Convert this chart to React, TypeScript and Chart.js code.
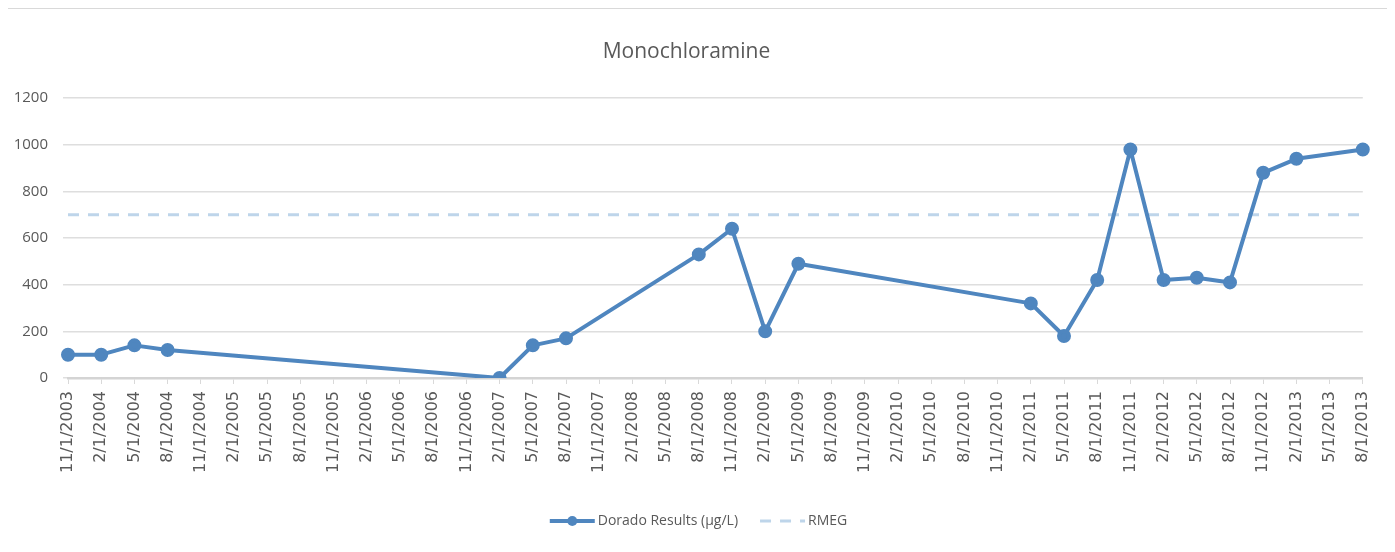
import React, { useEffect, useRef } from "react";
import { Chart, registerables } from "chart.js";

Chart.register(...registerables);

const TITLE = "Monochloramine";

const DATE_LABELS: string[] = [
  "11/1/2003", "2/1/2004", "5/1/2004", "8/1/2004", "11/1/2004",
  "2/1/2005", "5/1/2005", "8/1/2005", "11/1/2005",
  "2/1/2006", "5/1/2006", "8/1/2006", "11/1/2006",
  "2/1/2007", "5/1/2007", "8/1/2007", "11/1/2007",
  "2/1/2008", "5/1/2008", "8/1/2008", "11/1/2008",
  "2/1/2009", "5/1/2009", "8/1/2009", "11/1/2009",
  "2/1/2010", "5/1/2010", "8/1/2010", "11/1/2010",
  "2/1/2011", "5/1/2011", "8/1/2011", "11/1/2011",
  "2/1/2012", "5/1/2012", "8/1/2012", "11/1/2012",
  "2/1/2013", "5/1/2013", "8/1/2013",
];

const DORADO_RESULTS: (number | null)[] = [
  100, 100, 140, 120, null,
  null, null, null, null,
  null, null, null, null,
  0, 140, 170, null,
  null, null, 530, 640,
  200, 490, null, null,
  null, null, null, null,
  320, 180, 420, 980,
  420, 430, 410, 880,
  940, null, 980,
];

const RMEG_VALUES: number[] = [
  700, 700, 700, 700, 700,
  700, 700, 700, 700,
  700, 700, 700, 700,
  700, 700, 700, 700,
  700, 700, 700, 700,
  700, 700, 700, 700,
  700, 700, 700, 700,
  700, 700, 700, 700,
  700, 700, 700, 700,
  700, 700, 700,
];

const Y_TICKS = { min: 0, max: 1200, step: 200 };

const SANS = "'Open Sans', sans-serif";
const WIDE = "'DejaVu Sans', 'Open Sans', sans-serif";
const TEXT_COLOR = "#595959";

const legendPlugin = {
  id: "customLegend",
  afterDraw(chart: any) {
    const ctx = chart.ctx as CanvasRenderingContext2D;
    ctx.save();
    ctx.font = `14px ${SANS}`;
    const items = chart.data.datasets.map((ds: any) => ({
      ds,
      w: ctx.measureText(ds.label).width,
    }));
    const lineW = 45;
    const gapText = 3;
    const gapItems = 22;
    const total =
      items.reduce((s: number, it: any) => s + lineW + gapText + it.w, 0) +
      gapItems * (items.length - 1);
    let x = chart.width / 2 - total / 2;
    const y = 512;
    items.forEach(({ ds, w }: any) => {
      ctx.strokeStyle = ds.borderColor;
      ctx.lineWidth = ds.borderWidth;
      ctx.lineCap = "butt";
      ctx.setLineDash(ds.borderDash || []);
      ctx.beginPath();
      ctx.moveTo(x, y);
      ctx.lineTo(x + lineW, y);
      ctx.stroke();
      ctx.setLineDash([]);
      if (ds.pointRadius > 0) {
        ctx.fillStyle = ds.pointBackgroundColor;
        ctx.beginPath();
        ctx.arc(x + lineW / 2, y, ds.pointRadius, 0, Math.PI * 2);
        ctx.fill();
      }
      ctx.fillStyle = TEXT_COLOR;
      ctx.textBaseline = "middle";
      ctx.textAlign = "left";
      ctx.fillText(ds.label, x + lineW + gapText, y);
      x += lineW + gapText + w + gapItems;
    });
    ctx.restore();
  },
};

export default function App() {
  const canvasRef = useRef<HTMLCanvasElement | null>(null);

  useEffect(() => {
    if (!canvasRef.current) return;
    const chart = new Chart(canvasRef.current, {
      type: "line",
      data: {
        labels: DATE_LABELS,
        datasets: [
          {
            label: "Dorado Results (µg/L)",
            data: DORADO_RESULTS,
            borderColor: "#4f86bf",
            backgroundColor: "#4f86bf",
            pointBackgroundColor: "#4f86bf",
            pointBorderColor: "#4f86bf",
            borderWidth: 4,
            pointRadius: 5,
            pointHoverRadius: 5,
            spanGaps: true,
            tension: 0,
            borderJoinStyle: "round",
            borderCapStyle: "round",
          } as any,
          {
            label: "RMEG",
            data: RMEG_VALUES,
            borderColor: "#bed5ea",
            backgroundColor: "#bed5ea",
            borderWidth: 3,
            borderDash: [11, 9],
            pointRadius: 0,
            pointHoverRadius: 0,
            tension: 0,
          } as any,
        ],
      },
      options: {
        responsive: false,
        animation: false,
        devicePixelRatio: 1,
        layout: { padding: { left: 0, right: 24, top: 0, bottom: 0 } },
        plugins: {
          legend: { display: false },
          tooltip: { enabled: false },
          title: {
            display: true,
            text: TITLE,
            color: TEXT_COLOR,
            font: { family: SANS, size: 21, weight: "normal", lineHeight: 1.2 },
            padding: { top: 30, bottom: 34 },
          },
        },
        scales: {
          x: {
            type: "category",
            offset: false,
            grid: {
              display: true,
              drawOnChartArea: false,
              drawTicks: true,
              tickLength: 6,
              tickColor: "#d9d9d9",
              color: "#d9d9d9",
            },
            border: { display: true, color: "#d4d4d4", width: 2.5 },
            ticks: {
              autoSkip: false,
              maxRotation: 90,
              minRotation: 90,
              padding: 7,
              color: TEXT_COLOR,
              font: { family: WIDE, size: 16 },
            },
            afterFit(scale: any) {
              scale.height = 174;
            },
          },
          y: {
            min: Y_TICKS.min,
            max: Y_TICKS.max,
            grid: {
              color: "#dedede",
              lineWidth: 1.5,
              drawTicks: true,
              tickLength: 5,
              tickColor: "#dedede",
            },
            border: { display: false },
            ticks: {
              stepSize: Y_TICKS.step,
              padding: 15,
              color: TEXT_COLOR,
              font: { family: SANS, size: 15 },
              callback: (v: any) => String(v),
            },
            afterFit(scale: any) {
              scale.width = 60;
            },
          },
        },
      },
      plugins: [legendPlugin],
    });
    return () => chart.destroy();
  }, []);

  return (
    <div
      style={{
        marginLeft: -1,
        width: 1383,
        height: 544,
        boxSizing: "border-box",
        borderTop: "1px solid #d9d9d9",
        borderLeft: "1px solid #d9d9d9",
        borderRight: "1px solid #d9d9d9",
        background: "#ffffff",
      }}
    >
      <canvas ref={canvasRef} width={1381} height={543} style={{ display: "block" }} />
    </div>
  );
}
